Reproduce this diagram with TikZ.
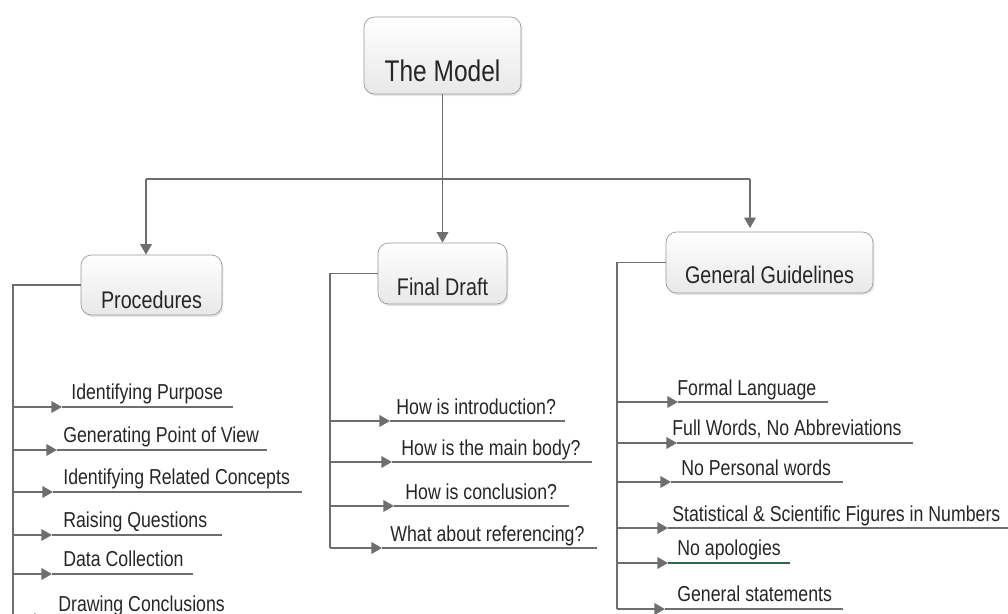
\documentclass[tikz,border=0pt]{standalone}
\usepackage{fontspec}
\setmainfont{Liberation Sans}[FakeStretch=0.82]
\usetikzlibrary{arrows.meta,shadows}
\definecolor{linegray}{HTML}{6E6E6E}
\definecolor{textgray}{HTML}{262626}
\definecolor{boxline}{HTML}{9A9A9A}
\definecolor{apogreen}{HTML}{2E6B4A}
\tikzset{
  topic/.style={draw=boxline, rounded corners=6pt, top color=white, bottom color=black!9,
    inner xsep=0pt, inner ysep=0pt, text=textgray,
    drop shadow={opacity=0.2, shadow xshift=0.8pt, shadow yshift=-1.2pt},
    font=\fontsize{13.7}{16}\selectfont},
  leaf/.style={anchor=base west, inner sep=0pt, text=textgray, font=\fontsize{12.3}{14}\selectfont},
  link/.style={draw=linegray, line width=1.1pt},
  branch/.style={link, -{Triangle[length=6pt,width=6.5pt]}},
  uline/.style={draw=linegray, line width=0.9pt},
}
\begin{document}
\begin{tikzpicture}[x=0.02cm, y=-0.02cm]
\useasboundingbox (0,0) rectangle (1008,614);
% main boxes
\node[topic, font=\fontsize{17}{20}\selectfont, minimum width=3.14cm, text height=1.30cm, text depth=0.24cm] (model) at (442.5,55.5) {The Model};
\node[topic, minimum width=2.82cm, text height=1.08cm, text depth=0.12cm] (proc) at (151.5,285) {Procedures};
\node[topic, minimum width=2.58cm, text height=1.06cm, text depth=0.16cm] (draft) at (442.5,273.5) {Final Draft};
\node[topic, minimum width=4.14cm, text height=1.04cm, text depth=0.18cm] (guide) at (769.5,262.5) {General Guidelines};
% top level
\coordinate (hl) at (146,179);
\coordinate (hr) at (750,179);
\draw[branch] (model.south) -- (draft.north);
\draw[link] (hl) -- (hr);
\draw[branch] (hl) -- (hl |- proc.north);
\draw[branch] (hr) -- ([yshift=2pt]hr |- guide.north);
% procedures
\coordinate (ps) at (13,285);
\coordinate (pe) at (13,630);
\draw[link] (proc.west) -- (ps) -- (pe);
\node[leaf] (p1) at (71,400) {Identifying Purpose};
\coordinate (p1a) at (62,407);
\coordinate (p1b) at (233,407);
\draw[branch] (ps |- p1a) -- (p1a);
\draw[uline] (p1a) -- (p1b);
\node[leaf] (p2) at (63,443) {Generating Point of View};
\coordinate (p2a) at (57,450);
\coordinate (p2b) at (267,450);
\draw[branch] (ps |- p2a) -- (p2a);
\draw[uline] (p2a) -- (p2b);
\node[leaf] (p3) at (63,485) {Identifying Related Concepts};
\coordinate (p3a) at (53,492);
\coordinate (p3b) at (302,492);
\draw[branch] (ps |- p3a) -- (p3a);
\draw[uline] (p3a) -- (p3b);
\node[leaf] (p4) at (63,528) {Raising Questions};
\coordinate (p4a) at (52,535);
\coordinate (p4b) at (222,535);
\draw[branch] (ps |- p4a) -- (p4a);
\draw[uline] (p4a) -- (p4b);
\node[leaf] (p5) at (63,567) {Data Collection};
\coordinate (p5a) at (52,574);
\coordinate (p5b) at (193,574);
\draw[branch] (ps |- p5a) -- (p5a);
\draw[uline] (p5a) -- (p5b);
\node[leaf] (p6) at (58,612) {Drawing Conclusions};
\coordinate (p6a) at (45,619);
\coordinate (p6b) at (232,619);
\draw[branch] (ps |- p6a) -- (p6a);
\draw[uline] (p6a) -- (p6b);
% final draft
\coordinate (fs) at (330,273.5);
\coordinate (fe) at (330,548);
\draw[link] (draft.west) -- (fs) -- (fe);
\node[leaf] (f1) at (396,415) {How is introduction?};
\coordinate (f1a) at (390,421);
\coordinate (f1b) at (565,421);
\draw[branch] (fs |- f1a) -- (f1a);
\draw[uline] (f1a) -- (f1b);
\node[leaf] (f2) at (401,456) {How is the main body?};
\coordinate (f2a) at (392,462);
\coordinate (f2b) at (592,462);
\draw[branch] (fs |- f2a) -- (f2a);
\draw[uline] (f2a) -- (f2b);
\node[leaf] (f3) at (405,500) {How is conclusion?};
\coordinate (f3a) at (394,506);
\coordinate (f3b) at (569,506);
\draw[branch] (fs |- f3a) -- (f3a);
\draw[uline] (f3a) -- (f3b);
\node[leaf] (f4) at (390,542) {What about referencing?};
\coordinate (f4a) at (382,548);
\coordinate (f4b) at (597,548);
\draw[branch] (fs |- f4a) -- (f4a);
\draw[uline] (f4a) -- (f4b);
% general guidelines
\coordinate (gs) at (617,262.5);
\coordinate (ge) at (617,609);
\draw[link] (guide.west) -- (gs) -- (ge);
\node[leaf] (g1) at (677,396) {Formal Language};
\coordinate (g1a) at (678,402);
\coordinate (g1b) at (828,402);
\draw[branch] (gs |- g1a) -- (g1a);
\draw[uline] (g1a) -- (g1b);
\node[leaf] (g2) at (672,436) {Full Words, No Abbreviations};
\coordinate (g2a) at (677,443);
\coordinate (g2b) at (913,443);
\draw[branch] (gs |- g2a) -- (g2a);
\draw[uline] (g2a) -- (g2b);
\node[leaf] (g3) at (681,476) {No Personal words};
\coordinate (g3a) at (671,482);
\coordinate (g3b) at (843,482);
\draw[branch] (gs |- g3a) -- (g3a);
\draw[uline] (g3a) -- (g3b);
\node[leaf] (g4) at (672,522) {Statistical \& Scientific Figures in Numbers};
\coordinate (g4a) at (668,528);
\coordinate (g4b) at (1008,528);
\draw[branch] (gs |- g4a) -- (g4a);
\draw[uline] (g4a) -- (g4b);
\node[leaf] (g5) at (677,556) {No apologies};
\coordinate (g5a) at (668,563);
\coordinate (g5b) at (790,563);
\draw[branch] (gs |- g5a) -- (g5a);
\draw[uline, draw=apogreen] (g5a) -- (g5b);
\node[leaf] (g6) at (677,602) {General statements};
\coordinate (g6a) at (665,609);
\coordinate (g6b) at (843,609);
\draw[branch] (gs |- g6a) -- (g6a);
\draw[uline] (g6a) -- (g6b);
\end{tikzpicture}
\end{document}
